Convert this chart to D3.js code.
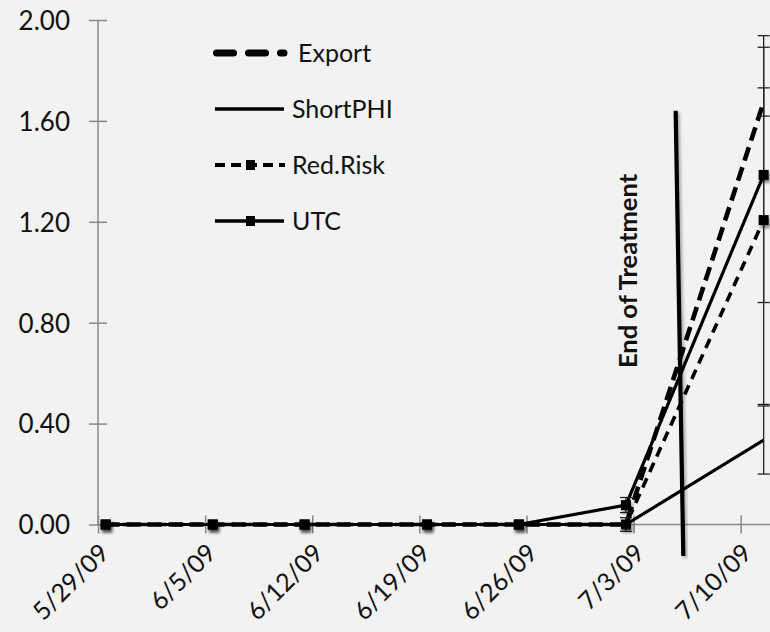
<!DOCTYPE html>
<html>
<head>
<meta charset="utf-8">
<script src="https://cdn.jsdelivr.net/npm/d3@7"></script>
<style>
  html, body { margin: 0; padding: 0; background: #f2f2f2; }
  svg { display: block; }
  text { font-family: Lato, "Open Sans", sans-serif; fill: #111; }
</style>
</head>
<body>
<svg id="chart" width="770" height="632"></svg>
<script>
// Sampling dates (noon) and measured residue values per treatment
const sampleDates = ["5/29/09 12", "6/5/09 12", "6/11/09 12", "6/19/09 12", "6/25/09 12", "7/2/09 12", "7/11/09 12"];
const exportVals   = [0, 0, 0, 0, 0, 0, 1.675];
const shortPHIVals = [0, 0, 0, 0, 0, 0, 0.335];
const redRiskVals  = [0, 0, 0, 0, 0, 0, 1.207];
const utcVals      = [0, 0, 0, 0, 0, 0.077, 1.386];

// Error bar half-widths (same order as the values)
const exportErr   = [0, 0, 0, 0, 0, 0, 0.056];
const shortPHIErr = [0, 0, 0, 0, 0, 0, 0.135];
const redRiskErr  = [0, 0, 0, 0, 0, 0.027, 0.731];
const utcErr      = [0, 0, 0, 0, 0, 0.03, 0.506];

// Axis ticks
const xTickLabels = ["5/29/09", "6/5/09", "6/12/09", "6/19/09", "6/26/09", "7/3/09", "7/10/09"];
const yTickValues = [0, 0.4, 0.8, 1.2, 1.6, 2.0];

// End-of-treatment marker line (date, value) and its label
const treatmentLine = [["7/5/09 18", 1.64], ["7/6/09 06", -0.125]];
const treatmentLabel = "End of Treatment";

const parseSample = d3.timeParse("%m/%d/%y %H");
const parseTick = d3.timeParse("%m/%d/%y");

const svg = d3.select("#chart");
const W = 770;

const x = d3.scaleTime()
  .domain([parseTick("5/29/09"), parseTick("7/10/09")])
  .range([98, 740.7]);
const y = d3.scaleLinear().domain([0, 2]).range([524.5, 20]);

const defs = svg.append("defs");
const shadow = defs.append("filter").attr("id", "shadow")
  .attr("x", "-50%").attr("y", "-50%").attr("width", "200%").attr("height", "200%");
shadow.append("feDropShadow").attr("dx", 1.5).attr("dy", 3).attr("stdDeviation", 1.6)
  .attr("flood-color", "#000").attr("flood-opacity", 0.45);
const soft = defs.append("filter").attr("id", "soft")
  .attr("x", "-50%").attr("y", "-10%").attr("width", "200%").attr("height", "120%");
soft.append("feDropShadow").attr("dx", 2).attr("dy", 2).attr("stdDeviation", 1.5)
  .attr("flood-color", "#000").attr("flood-opacity", 0.3);

// ---- Axes ----
const axisColor = "#888";
const yAxis = svg.append("g").attr("transform", "translate(98,0)")
  .call(d3.axisLeft(y).tickValues(yTickValues).tickFormat(d3.format(".2f")).tickSize(9).tickPadding(19));
yAxis.select(".domain").remove();
yAxis.selectAll(".tick line").attr("x2", 9).attr("x1", -9).attr("stroke", axisColor).attr("stroke-width", 1.5);
yAxis.selectAll(".tick text").attr("font-size", 26).attr("fill", "#111")
  .attr("x", -28).attr("dy", "0.36em");
svg.append("line").attr("x1", 98).attr("x2", 98).attr("y1", y(2)).attr("y2", y(0))
  .attr("stroke", axisColor).attr("stroke-width", 1.5);

const xTickDates = xTickLabels.map(parseTick);
const xAxis = svg.append("g").attr("transform", `translate(0,${y(0)})`)
  .call(d3.axisBottom(x).tickValues(xTickDates).tickFormat((d, i) => xTickLabels[i]).tickSize(9));
xAxis.select(".domain").remove();
xAxis.selectAll(".tick line").attr("y1", -9).attr("y2", 9).attr("stroke", axisColor).attr("stroke-width", 1.5);
xAxis.selectAll(".tick text").attr("font-size", 25).attr("fill", "#111")
  .attr("text-anchor", "end").attr("dy", 0).attr("y", 0)
  .attr("transform", "translate(12,30) rotate(-45)");
svg.append("line").attr("x1", 98).attr("x2", W).attr("y1", y(0)).attr("y2", y(0))
  .attr("stroke", axisColor).attr("stroke-width", 1.5);

// ---- Series ----
const series = [
  { name: "ShortPHI", vals: shortPHIVals, err: shortPHIErr, width: 3.2, dash: null, marker: false },
  { name: "UTC", vals: utcVals, err: utcErr, width: 3.2, dash: null, marker: true },
  { name: "Red.Risk", vals: redRiskVals, err: redRiskErr, width: 3.6, dash: "10,7", marker: true },
  { name: "Export", vals: exportVals, err: exportErr, width: 4.6, dash: "14,7", marker: false }
];
const dates = sampleDates.map(parseSample);
const line = d3.line().x(d => x(d[0])).y(d => y(d[1]));

series.forEach(s => {
  const pts = dates.map((d, i) => [d, s.vals[i], s.err[i]]);
  svg.append("path").datum(pts)
    .attr("d", line)
    .attr("fill", "none").attr("stroke", "#000")
    .attr("stroke-width", s.width)
    .attr("stroke-linejoin", "round")
    .attr("stroke-dasharray", s.dash);
  s.pts = pts;
});

// Error bars
series.forEach(s => {
  const eb = svg.append("g").attr("stroke", "#222").attr("stroke-width", 1.3);
  s.pts.filter(p => p[2] > 0).forEach(p => {
    const cx = x(p[0]);
    eb.append("line").attr("x1", cx).attr("x2", cx).attr("y1", y(p[1] - p[2])).attr("y2", y(p[1] + p[2]));
    [p[1] - p[2], p[1] + p[2]].forEach(v => {
      eb.append("line").attr("x1", cx - 6).attr("x2", cx + 6).attr("y1", y(v)).attr("y2", y(v));
    });
  });
});

// Markers
series.filter(s => s.marker).forEach(s => {
  svg.append("g").attr("filter", "url(#shadow)")
    .selectAll("rect").data(s.pts).join("rect")
    .attr("x", d => x(d[0]) - 5).attr("y", d => y(d[1]) - 5)
    .attr("width", 10).attr("height", 10).attr("fill", "#000");
});

// ---- End of treatment ----
svg.append("line")
  .attr("x1", x(parseSample(treatmentLine[0][0]))).attr("y1", y(treatmentLine[0][1]))
  .attr("x2", x(parseSample(treatmentLine[1][0]))).attr("y2", y(treatmentLine[1][1]))
  .attr("stroke", "#000").attr("stroke-width", 4.2).attr("filter", "url(#soft)");
svg.append("text")
  .attr("transform", "translate(637,271) rotate(-90)")
  .attr("text-anchor", "middle")
  .attr("font-size", 25.5).attr("font-weight", 700)
  .text(treatmentLabel);

// ---- Legend ----
const legend = svg.append("g");
const legendItems = [
  { name: "Export", y: 53, x1: 216.5, x2: 284, width: 7, dash: "17,15", cap: "round", marker: false, tx: 298 },
  { name: "ShortPHI", y: 109, x1: 215, x2: 284, width: 3.4, dash: null, cap: "butt", marker: false, tx: 292 },
  { name: "Red.Risk", y: 165, x1: 215, x2: 285, width: 4, dash: "10,6", cap: "butt", marker: true, tx: 292 },
  { name: "UTC", y: 221, x1: 215, x2: 284, width: 3.4, dash: null, cap: "butt", marker: true, tx: 292 }
];
legendItems.forEach(it => {
  legend.append("line").attr("x1", it.x1).attr("x2", it.x2).attr("y1", it.y).attr("y2", it.y)
    .attr("stroke", "#000").attr("stroke-width", it.width)
    .attr("stroke-dasharray", it.dash).attr("stroke-linecap", it.cap);
  if (it.marker) {
    legend.append("rect").attr("x", 246).attr("y", it.y - 5).attr("width", 9).attr("height", 10).attr("fill", "#000");
  }
  legend.append("text").attr("x", it.tx).attr("y", it.y).attr("dy", "0.36em")
    .attr("font-size", 25).text(it.name);
});
</script>
</body>
</html>
